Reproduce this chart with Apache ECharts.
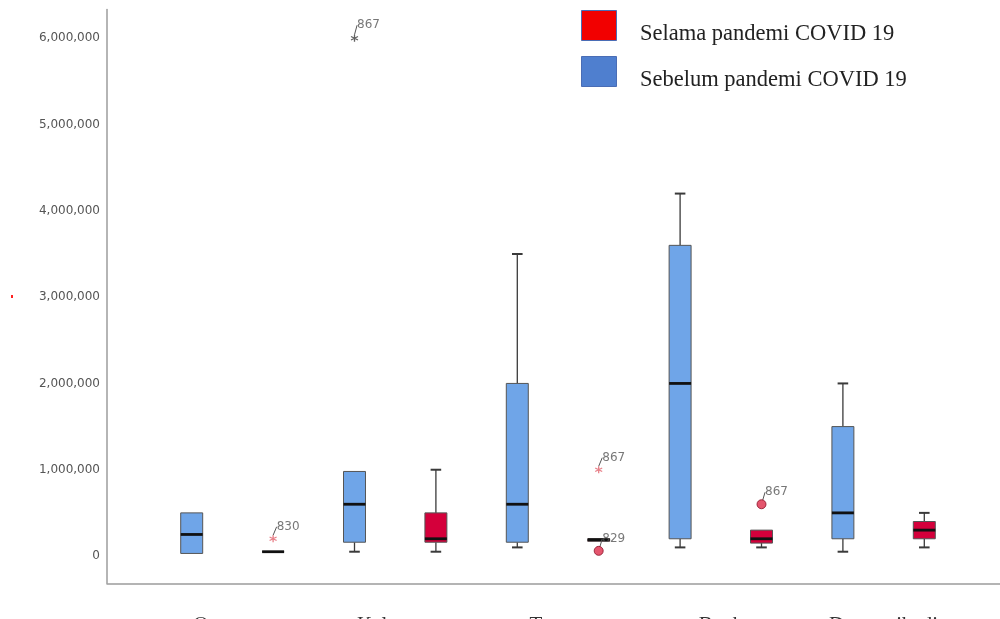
<!DOCTYPE html>
<html>
<head>
<meta charset="utf-8">
<script src="https://cdn.jsdelivr.net/npm/echarts@6/dist/echarts.min.js"></script>
<style>
  html, body { margin: 0; padding: 0; background: #ffffff; }
  #chart { width: 1000px; height: 619px; }
</style>
</head>
<body>
<div id="chart"></div>
<script>
// Funding sources, one pair of boxes per group
const groups = ['Orangtua', 'Keluarga', 'Teman', 'Bank', 'Dana pribadi'];

// Box statistics per group: [min, Q1, median, Q3, max]
const sebelumStats = [
  [30000, 30000, 250000, 500000, 500000],
  [50000, 160000, 600000, 980000, 980000],
  [100000, 160000, 600000, 2000000, 3500000],
  [100000, 200000, 2000000, 3600000, 4200000],
  [50000, 200000, 500000, 1500000, 2000000]
];
const selamaStats = [
  [50000, 50000, 50000, 50000, 50000],
  [50000, 160000, 200000, 500000, 1000000],
  [170000, 170000, 190000, 200000, 200000],
  [100000, 150000, 200000, 300000, 300000],
  [100000, 200000, 300000, 400000, 500000]
];

// Flagged cases: group index, value, case number, far (extreme) or not
const sebelumOutliers = [
  { group: 1, value: 6000000, caseNo: '867', far: true }
];
const selamaOutliers = [
  { group: 0, value: 200000, caseNo: '830', far: true },
  { group: 2, value: 1000000, caseNo: '867', far: true },
  { group: 2, value: 60000, caseNo: '829', far: false },
  { group: 3, value: 600000, caseNo: '867', far: false }
];

// Value axis range and labelled ticks
const yMin = -316000;
const yMax = 6333000;
const yStep = 1000000;

const nameSebelum = 'Sebelum pandemi COVID 19';
const nameSelama = 'Selama pandemi COVID 19';

function drawBox(params, api) {
  const x = api.value(0);
  const pt = function (i) { return api.coord([x, api.value(i)]); };
  const lo = pt(1), q1 = pt(2), md = pt(3), q3 = pt(4), hi = pt(5);
  const slot = api.size([1, 0])[0];
  const half = slot * 0.135;
  const capHalf = slot * 0.065;
  const cx = lo[0];
  const whisker = { stroke: '#3a3a3a', lineWidth: 1.3 };
  const children = [];
  if (q3[1] - hi[1] > 0.5) {
    children.push({ type: 'line', shape: { x1: cx, y1: hi[1], x2: cx, y2: q3[1] }, style: whisker });
    children.push({ type: 'line', shape: { x1: cx - capHalf, y1: hi[1], x2: cx + capHalf, y2: hi[1] }, style: { stroke: '#3a3a3a', lineWidth: 2 } });
  }
  if (lo[1] - q1[1] > 0.5) {
    children.push({ type: 'line', shape: { x1: cx, y1: q1[1], x2: cx, y2: lo[1] }, style: whisker });
    children.push({ type: 'line', shape: { x1: cx - capHalf, y1: lo[1], x2: cx + capHalf, y2: lo[1] }, style: { stroke: '#3a3a3a', lineWidth: 2 } });
  }
  children.push({
    type: 'rect',
    shape: { x: cx - half, y: q3[1], width: half * 2, height: q1[1] - q3[1] },
    style: { fill: api.visual('color'), stroke: '#555555', lineWidth: 1 }
  });
  children.push({
    type: 'line',
    shape: { x1: cx - half, y1: md[1], x2: cx + half, y2: md[1] },
    style: { stroke: '#111111', lineWidth: 2.8 }
  });
  return { type: 'group', children: children };
}

function boxData(stats, shift) {
  return stats.map(function (s, i) { return [i * 2 + shift].concat(s); });
}

const asteriskPath = 'path://M5,0L5,10M0.67,2.5L9.33,7.5M0.67,7.5L9.33,2.5';

function outlierData(list, shift, farColor) {
  return list.map(function (o) {
    const item = { value: [o.group * 2 + shift, o.value], name: o.caseNo };
    if (o.far) {
      item.symbol = asteriskPath;
      item.symbolSize = 7;
      item.itemStyle = { color: farColor, borderColor: farColor, borderWidth: 1.3 };
    } else {
      item.symbol = 'circle';
      item.symbolSize = 9;
      item.itemStyle = { color: '#dd2a48', borderColor: '#8a0f25', borderWidth: 1 };
    }
    return item;
  });
}

const outlierLabel = {
  show: true,
  position: 'inside',
  formatter: '{b}',
  fontFamily: 'DejaVu Sans',
  fontSize: 12,
  color: '#555555'
};

const legendNames = [nameSelama, nameSebelum];
const legendColors = ['#f20000', '#4f7fcf'];

const chart = echarts.init(document.getElementById('chart'), null, { renderer: 'canvas' });

chart.setOption({
  animation: false,
  backgroundColor: '#ffffff',
  grid: [
    { left: 107, right: 0, top: 9.5, bottom: 35.7, outerBoundsMode: 'none', containLabel: false },
    { left: 151, right: 35, top: 9.5, bottom: 35.7, outerBoundsMode: 'none', containLabel: false }
  ],
  legend: [
    {
      // colour swatches
      orient: 'vertical', left: 576, top: 5,
      itemWidth: 35, itemHeight: 30, itemGap: 15,
      selectedMode: false,
      formatter: function () { return ''; },
      data: legendNames.map(function (n, i) {
        return { name: n, icon: 'rect', itemStyle: { color: legendColors[i], borderColor: '#4a6db5', borderWidth: 1 } };
      })
    },
    {
      // entry texts
      orient: 'vertical', left: 595, top: 14,
      itemWidth: 35, itemHeight: 30, itemGap: 16,
      selectedMode: false,
      textStyle: { fontFamily: 'Liberation Serif', fontSize: 22.5, color: '#222222' },
      data: legendNames.map(function (n) {
        return { name: n, icon: 'rect', itemStyle: { color: 'rgba(0,0,0,0)', borderWidth: 0 } };
      })
    }
  ],
  xAxis: [
    {
      gridIndex: 0, type: 'value', min: 0, max: 1,
      axisLine: { show: true, onZero: false, lineStyle: { color: '#9c9c9c', width: 1.5 } },
      axisTick: { show: false }, axisLabel: { show: false }, splitLine: { show: false }
    },
    {
      gridIndex: 1, type: 'value', min: -0.5, max: 9.5, show: false
    },
    {
      gridIndex: 1, type: 'category', data: groups, position: 'bottom',
      axisLine: { show: false }, axisTick: { show: false }, splitLine: { show: false },
      axisLabel: {
        margin: 32, interval: 0,
        fontFamily: 'Liberation Serif', fontSize: 21, color: '#333333'
      }
    }
  ],
  yAxis: [
    {
      gridIndex: 0, type: 'value', min: yMin, max: yMax, splitNumber: 6,
      axisLine: { show: true, onZero: false, lineStyle: { color: '#9c9c9c', width: 1.5 } },
      axisTick: { show: false }, splitLine: { show: false },
      axisLabel: {
        margin: 7,
        fontFamily: 'DejaVu Sans', fontSize: 12, color: '#555555',
        formatter: function (v) {
          if (v < 0 || Math.abs(v % yStep) > 1) return '';
          return v.toLocaleString('en-US');
        }
      }
    },
    {
      gridIndex: 1, type: 'value', min: yMin, max: yMax, show: false
    }
  ],
  series: [
    {
      name: nameSebelum, type: 'custom', xAxisIndex: 1, yAxisIndex: 1,
      itemStyle: { color: '#6fa5e8' },
      renderItem: drawBox,
      encode: { x: 0, y: [1, 2, 3, 4, 5] },
      data: boxData(sebelumStats, 0)
    },
    {
      name: nameSelama, type: 'custom', xAxisIndex: 1, yAxisIndex: 1,
      itemStyle: { color: '#d4003b' },
      renderItem: drawBox,
      encode: { x: 0, y: [1, 2, 3, 4, 5] },
      data: boxData(selamaStats, 1)
    },
    {
      name: nameSebelum, type: 'scatter', xAxisIndex: 1, yAxisIndex: 1,
      data: outlierData(sebelumOutliers, 0, '#3a3a3a'),
      label: outlierLabel,
      labelLayout: { dx: 14, dy: -13 },
      labelLine: { show: true, lineStyle: { color: '#555555', width: 1 } }
    },
    {
      name: nameSelama, type: 'scatter', xAxisIndex: 1, yAxisIndex: 1,
      data: outlierData(selamaOutliers, 1, '#e2606c'),
      label: outlierLabel,
      labelLayout: { dx: 15, dy: -12 },
      labelLine: { show: true, lineStyle: { color: '#555555', width: 1 } }
    }
  ],
  graphic: [
    { type: 'rect', left: 11, top: 295, shape: { width: 2, height: 3 }, style: { fill: '#ff2020' } }
  ]
});
</script>
</body>
</html>
